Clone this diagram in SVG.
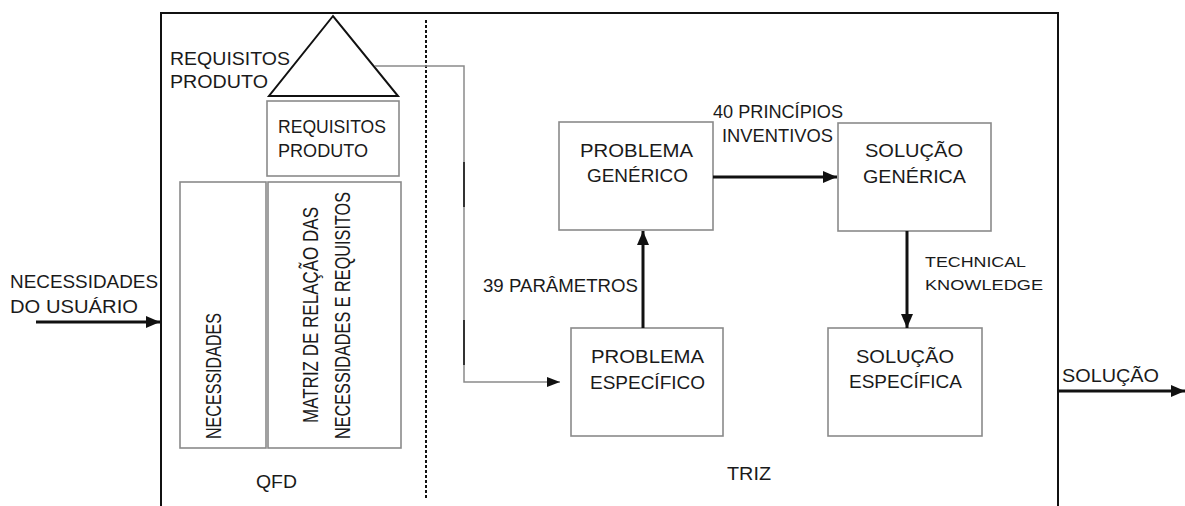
<svg xmlns="http://www.w3.org/2000/svg" width="1185" height="506" viewBox="0 0 1185 506">
<style>
text{font-family:"Liberation Sans",Arial,sans-serif;font-size:17.5px;fill:#1a1a1a;}
.big{font-size:18.5px;}
.rot{font-size:22px;}
.small{font-size:15px;}
.box{fill:#fff;stroke:#8a8a8a;stroke-width:1.6;}
.frame{fill:none;stroke:#111;stroke-width:2;}
.thick{fill:none;stroke:#111;stroke-width:3;}
.thin{fill:none;stroke:#8a8a8a;stroke-width:1.5;}
.dark{fill:none;stroke:#333;stroke-width:2;}
</style>
<defs>
<marker id="ah" markerWidth="14" markerHeight="12" refX="14" refY="6" orient="auto" markerUnits="userSpaceOnUse"><path d="M0,0 L14,6 L0,12 z" fill="#111"/></marker>
<marker id="ahs" markerWidth="13" markerHeight="10" refX="13" refY="5" orient="auto" markerUnits="userSpaceOnUse"><path d="M0,0 L13,5 L0,10 z" fill="#111"/></marker>
</defs>
<rect width="1185" height="506" fill="#fff"/>
<g id="frame">
<path class="frame" d="M161,506 L161,13 L1058,13 L1058,506"/>
<line x1="426" y1="20" x2="426" y2="500" stroke="#111" stroke-width="2" stroke-dasharray="3,2"/>
</g>
<g id="qfd">
<g id="triangle">
<polygon points="333,16 269,96 398,96" fill="#fff" stroke="#111" stroke-width="2"/>
<text class="big" x="170" y="65" textLength="120" lengthAdjust="spacingAndGlyphs">REQUISITOS</text>
<text class="big" x="170" y="88" textLength="98" lengthAdjust="spacingAndGlyphs">PRODUTO</text>
</g>
<g id="req-produto">
<rect class="box" x="267" y="101" width="132" height="75"/>
<text x="278" y="133" textLength="108" lengthAdjust="spacingAndGlyphs">REQUISITOS</text>
<text x="278" y="157" textLength="90" lengthAdjust="spacingAndGlyphs">PRODUTO</text>
</g>
<g id="necessidades">
<rect class="box" x="180" y="182" width="86" height="266"/>
<text class="rot" transform="translate(221,439) rotate(-90)" textLength="126" lengthAdjust="spacingAndGlyphs">NECESSIDADES</text>
</g>
<g id="matriz">
<rect class="box" x="268" y="182" width="133" height="266"/>
<text class="rot" transform="translate(318,423) rotate(-90)" textLength="216" lengthAdjust="spacingAndGlyphs">MATRIZ DE RELAÇÃO DAS</text>
<text class="rot" transform="translate(350,439) rotate(-90)" textLength="247" lengthAdjust="spacingAndGlyphs">NECESSIDADES E REQUISITOS</text>
</g>
<text id="qfd-label" x="256" y="488" textLength="41" lengthAdjust="spacingAndGlyphs">QFD</text>
</g>
<g id="input-label">
<text class="big" x="10" y="288" textLength="148" lengthAdjust="spacingAndGlyphs">NECESSIDADES</text>
<text class="big" x="10" y="313" textLength="128" lengthAdjust="spacingAndGlyphs">DO USUÁRIO</text>
</g>
<g id="problema-generico">
<rect class="box" x="559" y="122" width="154" height="108"/>
<text x="580" y="157" textLength="113" lengthAdjust="spacingAndGlyphs">PROBLEMA</text>
<text x="587" y="182" textLength="101" lengthAdjust="spacingAndGlyphs">GENÉRICO</text>
</g>
<g id="solucao-generica">
<rect class="box" x="838" y="123" width="153" height="108"/>
<text x="865" y="157" textLength="98" lengthAdjust="spacingAndGlyphs">SOLUÇÃO</text>
<text x="863" y="183" textLength="103" lengthAdjust="spacingAndGlyphs">GENÉRICA</text>
</g>
<g id="problema-especifico">
<rect class="box" x="571" y="328" width="152" height="108"/>
<text x="591" y="363" textLength="113" lengthAdjust="spacingAndGlyphs">PROBLEMA</text>
<text x="590" y="389" textLength="115" lengthAdjust="spacingAndGlyphs">ESPECÍFICO</text>
</g>
<g id="solucao-especifica">
<rect class="box" x="828" y="328" width="154" height="108"/>
<text x="856" y="363" textLength="98" lengthAdjust="spacingAndGlyphs">SOLUÇÃO</text>
<text x="849" y="388" textLength="113" lengthAdjust="spacingAndGlyphs">ESPECÍFICA</text>
</g>
<text id="triz-label" x="727" y="480" textLength="44" lengthAdjust="spacingAndGlyphs">TRIZ</text>
<g id="connectors">
<line class="thick" x1="36" y1="322" x2="160" y2="322" marker-end="url(#ah)"/>
<polyline class="thin" points="375,66 464,66 464,382 560,382" marker-end="url(#ahs)"/>
<line class="dark" x1="464" y1="162" x2="464" y2="207"/>
<line class="dark" x1="464" y1="320" x2="464" y2="365"/>
<line class="thick" x1="643" y1="328" x2="643" y2="231" marker-end="url(#ah)"/>
<line class="thick" x1="713" y1="177" x2="837" y2="177" marker-end="url(#ah)"/>
<line class="thick" x1="907" y1="231" x2="907" y2="328" marker-end="url(#ah)"/>
<line class="thick" x1="1058" y1="391" x2="1185" y2="391" marker-end="url(#ah)"/>
<text x="713" y="118" textLength="130" lengthAdjust="spacingAndGlyphs">40 PRINCÍPIOS</text>
<text x="722" y="142" textLength="111" lengthAdjust="spacingAndGlyphs">INVENTIVOS</text>
<text x="483" y="292" textLength="155" lengthAdjust="spacingAndGlyphs">39 PARÂMETROS</text>
<text class="small" x="925" y="267" textLength="101" lengthAdjust="spacingAndGlyphs">TECHNICAL</text>
<text class="small" x="925" y="290" textLength="118" lengthAdjust="spacingAndGlyphs">KNOWLEDGE</text>
<text x="1062" y="382" textLength="97" lengthAdjust="spacingAndGlyphs">SOLUÇÃO</text>
</g>
</svg>
